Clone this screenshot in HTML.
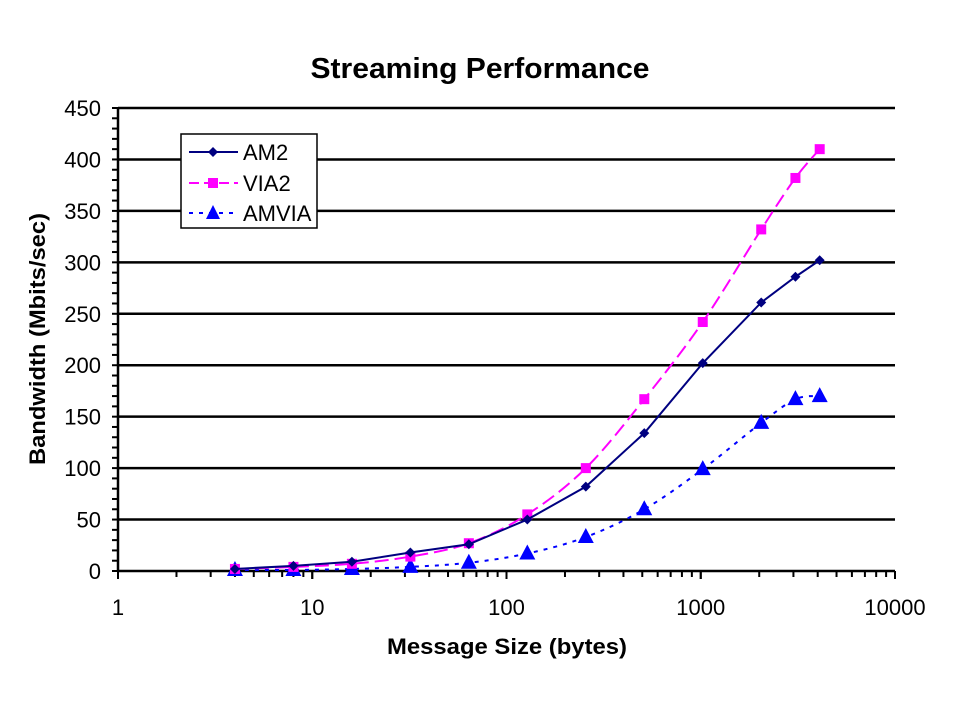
<!DOCTYPE html>
<html><head><meta charset="utf-8"><style>
body{margin:0;background:#fff}
svg{display:block;font-family:"Liberation Sans",Arial,sans-serif}
</style></head><body>
<svg id="chart" width="960" height="720" xmlns="http://www.w3.org/2000/svg">
<text x="480" y="78" text-anchor="middle" font-size="29" font-weight="bold" textLength="339" lengthAdjust="spacingAndGlyphs">Streaming Performance</text>
<g id="grid"></g>
<g id="yaxis"></g>
<g id="xaxis"></g>
<g id="series"></g>
<text transform="translate(45,339) rotate(-90)" text-anchor="middle" font-size="22" font-weight="bold" textLength="252" lengthAdjust="spacingAndGlyphs">Bandwidth (Mbits/sec)</text>
<text x="507" y="654" text-anchor="middle" font-size="22" font-weight="bold" textLength="240" lengthAdjust="spacingAndGlyphs">Message Size (bytes)</text>
<g>
<rect x="181" y="134" width="136" height="94" fill="#fff" stroke="#000" stroke-width="1.5"/>
<g>
<line x1="189" y1="152" x2="238" y2="152" stroke="#000080" stroke-width="2"/>
<path d="M213,147 L218,152 L213,157 L208,152Z" fill="#000080"/>
<text x="243" y="160" font-size="22">AM2</text></g>
<g>
<line x1="189" y1="183" x2="238" y2="183" stroke="#ff00ff" stroke-width="2" stroke-dasharray="10,5"/>
<rect x="208" y="178" width="10" height="10" fill="#ff00ff"/>
<text x="243" y="191" font-size="22">VIA2</text></g>
<g>
<line x1="189" y1="213" x2="238" y2="213" stroke="#0000ff" stroke-width="2" stroke-dasharray="4,6"/>
<path d="M213,205 L220,219 L206,219Z" fill="#0000ff"/>
<text x="243" y="221" font-size="22">AMVIA</text></g>
</g>
</svg>
<script>
const xValues=[4,8,16,32,64,128,256,512,1024,2048,3072,4096];
const am2=[2,5,9,18,26,50,82,134,202,261,286,302];
const via2=[2,4,7,14,27,55,100,167,242,332,382,410];
const amvia=[1,1,2,4,8,17,33,60,99,144,167,170];
const yTicks=[0,50,100,150,200,250,300,350,400,450];
const xTicks=[1,10,100,1000,10000];
const NS="http://www.w3.org/2000/svg";
const X0=118,X1=895,Y0=571,Y1=108;
function xs(v){return X0+(X1-X0)*Math.log10(v)/4;}
function ys(v){return Y0-(Y0-Y1)*v/450;}
function mk(t,a,p){const e=document.createElementNS(NS,t);for(const k in a)e.setAttribute(k,a[k]);p.appendChild(e);return e;}
const grid=document.getElementById('grid'),ya=document.getElementById('yaxis'),xa=document.getElementById('xaxis'),sg=document.getElementById('series');
yTicks.forEach(v=>{
 if(v>0){const l=mk('line',{x1:X0,x2:X1,y1:ys(v),y2:ys(v),stroke:'#000','stroke-width':2.5},grid);
 
 }
 const t=mk('text',{x:X0-17,y:ys(v)+8,'text-anchor':'end','font-size':22},ya);t.textContent=v;
 
 
});
for(let v=0;v<=450;v+=10){mk('line',{x1:X0-6,x2:X0,y1:ys(v),y2:ys(v),stroke:'#000','stroke-width':2},ya);}
mk('line',{x1:X0,x2:X0,y1:Y1,y2:Y0,stroke:'#000','stroke-width':2.5},ya);
mk('line',{x1:X0,x2:X1,y1:Y0,y2:Y0,stroke:'#000','stroke-width':2.5},xa);
for(let d=0;d<4;d++)for(let m=1;m<=10;m++){const v=Math.pow(10,d)*m;mk('line',{x1:xs(v),x2:xs(v),y1:Y0,y2:Y0+(m==1||m==10?8:6),stroke:'#000','stroke-width':2},xa);}
xTicks.forEach(v=>{const t=mk('text',{x:xs(v),y:Y0+44,'text-anchor':'middle','font-size':22},xa);t.textContent=v;
 
 });
function smooth(pts){let d='M'+pts[0][0]+','+pts[0][1];for(let i=0;i<pts.length-1;i++){const p0=pts[i-1]||pts[i],p1=pts[i],p2=pts[i+1],p3=pts[i+2]||p2;
 d+=' C'+(p1[0]+(p2[0]-p0[0])/6)+','+(p1[1]+(p2[1]-p0[1])/6)+' '+(p2[0]-(p3[0]-p1[0])/6)+','+(p2[1]-(p3[1]-p1[1])/6)+' '+p2[0]+','+p2[1];}return d;}
function series(vals,name,color,dash,marker,curved){
 const g=mk('g',{},sg);
 
 
 const pts=vals.map((v,i)=>[xs(xValues[i]),ys(v)]);
 const d=curved?smooth(pts):'M'+pts.map(p=>p.join(',')).join(' L');
 mk('path',{d:d,fill:'none',stroke:color,'stroke-width':2,'stroke-dasharray':dash},g);
 pts.forEach(([x,y])=>{let e;
  if(marker=='d')e=mk('path',{d:`M${x},${y-5}L${x+5},${y}L${x},${y+5}L${x-5},${y}Z`,fill:color},g);
  else if(marker=='s')e=mk('rect',{x:x-5,y:y-5,width:10,height:10,fill:color},g);
  else e=mk('path',{d:`M${x},${y-9}L${x+8},${y+6}L${x-8},${y+6}Z`,fill:color},g);
  
  });
}
series(amvia,'amvia','#0000ff','4,6','t',true);
series(via2,'via2','#ff00ff','14,6','s',true);
series(am2,'am2','#000080','','d',false);
</script>
</body></html>
